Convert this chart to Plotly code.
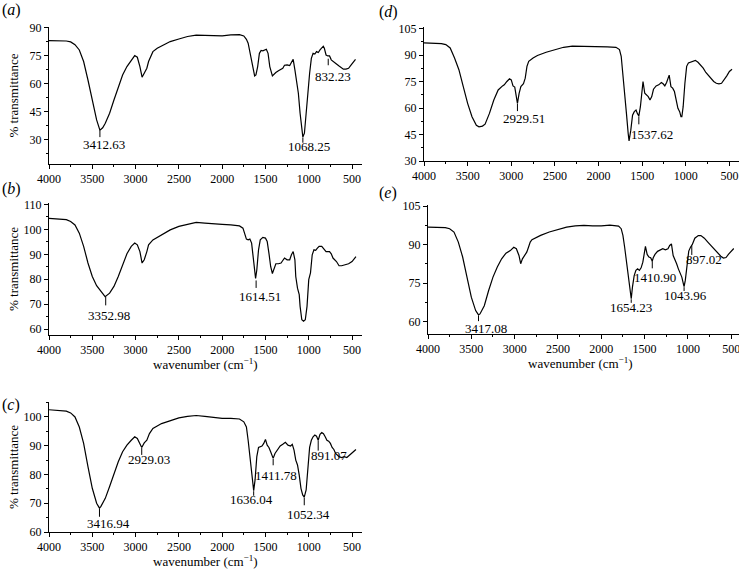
import plotly.graph_objects as go

# ---- spectra (wavenumber cm-1, % transmittance) ----
wn_a = [4000, 3900, 3800, 3750, 3700, 3650, 3600, 3550, 3500, 3450, 3412, 3380, 3350, 3300, 3250, 3200,
        3150, 3100, 3050, 3010, 2980, 2950, 2925, 2900, 2870, 2850, 2800, 2750, 2700, 2600, 2500, 2400,
        2300, 2200, 2100, 2000, 1900, 1800, 1750, 1720, 1700, 1680, 1660, 1640, 1625, 1610, 1590, 1570,
        1550, 1530, 1510, 1490, 1470, 1450, 1420, 1400, 1380, 1350, 1300, 1280, 1250, 1220, 1200, 1180,
        1160, 1140, 1120, 1100, 1080, 1068, 1050, 1030, 1010, 990, 970, 950, 930, 910, 890, 870, 850,
        832, 820, 800, 780, 760, 740, 720, 700, 680, 650, 620, 600, 570, 540, 510, 480, 460]
tr_a = [83.2, 83.1, 83.0, 82.5, 81.0, 78.2, 72.0, 62.1, 51.4, 40.7, 35.2, 36.5, 38.9, 44.3, 51.4, 57.7,
        64.8, 69.3, 72.9, 75.2, 74.3, 69.3, 63.6, 65.7, 68.4, 72.0, 77.3, 79.1, 80.4, 82.7, 84.1, 85.4,
        86.1, 85.9, 85.7, 85.7, 86.3, 86.4, 85.7, 83.9, 81.8, 77.3, 71.1, 66.6, 64.3, 64.8, 69.3, 76.4,
        77.9, 77.7, 78.2, 78.6, 76.4, 69.3, 64.3, 65.4, 66.1, 67.1, 68.4, 70.0, 70.2, 69.8, 72.0, 73.2,
        67.5, 61.3, 55.0, 44.3, 34.5, 31.5, 33.6, 42.5, 55.0, 65.7, 73.7, 76.4, 76.0, 77.3, 76.8, 78.2, 79.6,
        80.2, 79.1, 75.5, 75.0, 75.0, 72.9, 72.0, 71.1, 70.7, 69.6, 68.4, 67.9, 67.9, 68.4, 70.2, 72.0, 73.2]

wn_b = [4000, 3900, 3800, 3750, 3700, 3650, 3600, 3550, 3500, 3450, 3400, 3352, 3300, 3250, 3200, 3150,
        3100, 3050, 3010, 2980, 2950, 2925, 2900, 2870, 2850, 2800, 2700, 2600, 2500, 2400, 2300, 2200,
        2100, 2000, 1900, 1800, 1760, 1740, 1720, 1700, 1680, 1660, 1640, 1614, 1600, 1580, 1560, 1530,
        1500, 1480, 1460, 1440, 1420, 1400, 1380, 1350, 1320, 1300, 1280, 1250, 1220, 1200, 1180, 1160,
        1150, 1130, 1110, 1100, 1080, 1060, 1040, 1020, 1000, 980, 960, 940, 920, 900, 880, 850, 820,
        800, 760, 740, 720, 700, 680, 650, 620, 580, 540, 500, 470, 455]
tr_b = [104.4, 104.3, 103.9, 103.2, 101.8, 98.5, 93.2, 86.5, 81.1, 77.4, 75.1, 73.0, 74.4, 77.1, 81.1, 85.8,
        90.2, 93.2, 94.5, 93.8, 91.1, 86.5, 87.8, 91.1, 93.8, 95.8, 97.8, 99.8, 101.2, 102.1, 102.8, 102.5,
        102.1, 102.0, 101.8, 101.4, 100.5, 98.5, 96.1, 95.8, 96.1, 94.5, 89.1, 80.3, 83.7, 91.8, 95.8, 96.8,
        96.5, 95.2, 90.5, 85.1, 82.3, 84.5, 86.2, 86.2, 86.5, 87.5, 88.5, 87.8, 87.8, 89.8, 91.1, 87.8,
        81.1, 76.4, 73.8, 69.1, 63.7, 63.1, 63.7, 69.1, 79.8, 82.5, 89.8, 91.8, 91.6, 92.5, 93.2, 93.2, 91.8,
        91.1, 91.1, 90.2, 88.5, 87.8, 87.1, 85.4, 85.4, 85.8, 86.2, 87.1, 88.5, 89.1]

wn_c = [4000, 3900, 3800, 3750, 3700, 3650, 3600, 3550, 3500, 3450, 3417, 3400, 3350, 3300, 3250, 3200,
        3150, 3100, 3050, 3010, 2980, 2950, 2929, 2900, 2870, 2840, 2800, 2700, 2600, 2500, 2400, 2300,
        2200, 2100, 2000, 1900, 1800, 1750, 1720, 1700, 1680, 1660, 1636, 1620, 1600, 1580, 1560, 1540,
        1520, 1500, 1480, 1460, 1440, 1411, 1390, 1360, 1330, 1300, 1270, 1240, 1210, 1190, 1170, 1150,
        1130, 1110, 1090, 1070, 1052, 1030, 1010, 990, 970, 950, 930, 910, 891, 870, 850, 830, 810, 790,
        770, 750, 730, 710, 690, 670, 650, 620, 590, 560, 530, 500, 470, 455]
tr_c = [102.5, 102.3, 102.0, 101.4, 100.0, 96.5, 90.8, 82.7, 75.2, 70.0, 68.3, 68.9, 71.7, 75.8, 80.4, 84.4,
        87.9, 90.2, 91.9, 93.1, 92.5, 90.8, 89.4, 91.0, 91.9, 94.2, 96.0, 97.7, 98.8, 99.7, 100.2, 100.5,
        100.2, 99.8, 99.5, 99.5, 99.3, 98.3, 96.5, 91.9, 86.2, 80.4, 74.4, 78.1, 86.2, 89.4, 89.6, 89.9,
        90.8, 92.2, 90.2, 89.4, 87.9, 85.6, 87.3, 88.7, 89.9, 90.5, 91.2, 90.2, 89.9, 90.5, 88.5, 85.0,
        83.3, 79.8, 75.2, 72.9, 72.1, 74.6, 82.7, 89.4, 91.9, 93.1, 93.7, 93.3, 91.9, 94.0, 94.6, 94.2, 93.1, 91.9,
        91.6, 90.8, 89.4, 88.7, 87.3, 86.7, 86.2, 85.9, 86.2, 85.9, 86.7, 87.5, 88.5, 88.7]

wn_d = [4000, 3900, 3800, 3750, 3700, 3650, 3600, 3550, 3500, 3450, 3400, 3370, 3330, 3300, 3250, 3200,
        3150, 3100, 3080, 3050, 3020, 3000, 2980, 2960, 2940, 2929, 2910, 2890, 2860, 2840, 2820, 2800,
        2750, 2700, 2600, 2500, 2400, 2300, 2200, 2100, 2000, 1900, 1800, 1760, 1740, 1720, 1700, 1680,
        1660, 1650, 1630, 1610, 1590, 1570, 1555, 1538, 1520, 1500, 1490, 1470, 1450, 1430, 1410, 1390,
        1370, 1340, 1310, 1280, 1260, 1240, 1220, 1200, 1190, 1170, 1150, 1130, 1110, 1090, 1070, 1055,
        1045, 1030, 1010, 990, 970, 950, 920, 890, 860, 830, 800, 770, 740, 710, 680, 650, 620, 590,
        560, 530, 500, 470]
tr_d = [97.0, 97.0, 96.6, 96.0, 94.1, 88.4, 81.8, 72.2, 62.7, 55.1, 50.3, 49.4, 49.8, 50.9, 57.0, 64.6,
        70.3, 72.6, 73.2, 75.1, 76.6, 76.0, 72.6, 71.9, 66.5, 62.7, 68.4, 72.2, 73.8, 77.0, 83.7, 86.5,
        88.4, 89.8, 91.7, 93.2, 94.5, 95.1, 95.1, 94.9, 94.9, 94.7, 94.5, 93.2, 89.4, 79.9, 68.4, 57.0,
        45.6, 41.4, 47.5, 56.0, 58.0, 58.9, 57.0, 55.5, 60.8, 71.3, 75.1, 68.4, 67.5, 66.5, 64.6, 66.5,
        70.7, 72.6, 73.2, 74.5, 73.8, 72.6, 74.5, 77.6, 78.7, 72.2, 71.3, 69.4, 64.6, 59.9, 58.0, 55.1,
        55.1, 60.8, 74.1, 83.7, 85.6, 86.0, 86.5, 87.1, 86.0, 84.6, 82.7, 80.2, 78.3, 76.4, 75.1, 74.1, 73.8, 74.1,
        76.0, 78.3, 80.8, 82.0]

wn_e = [4000, 3900, 3800, 3750, 3700, 3650, 3600, 3550, 3500, 3450, 3417, 3400, 3350, 3300, 3250, 3200,
        3150, 3100, 3050, 3010, 2980, 2950, 2930, 2910, 2880, 2860, 2840, 2820, 2800, 2700, 2600, 2500,
        2400, 2300, 2200, 2100, 2000, 1900, 1800, 1770, 1750, 1730, 1710, 1690, 1670, 1654, 1640, 1620,
        1600, 1580, 1560, 1540, 1520, 1500, 1490, 1470, 1450, 1430, 1411, 1400, 1380, 1350, 1320, 1290,
        1260, 1230, 1210, 1190, 1170, 1150, 1130, 1110, 1090, 1070, 1050, 1044, 1030, 1010, 990, 970,
        950, 920, 880, 850, 810, 770, 730, 690, 650, 620, 590, 560, 530, 500, 470]
tr_e = [96.8, 96.8, 96.6, 96.2, 94.9, 91.0, 85.2, 77.4, 69.6, 64.4, 62.7, 63.1, 66.3, 72.2, 77.4, 81.3,
        84.5, 86.7, 87.7, 89.0, 88.4, 85.8, 82.6, 84.5, 86.2, 87.1, 89.0, 91.0, 91.9, 93.6, 94.9, 95.8,
        96.8, 97.3, 97.5, 97.3, 97.3, 97.6, 97.2, 96.2, 93.6, 89.0, 83.9, 77.4, 72.2, 69.0, 73.5, 78.0,
        80.0, 80.6, 80.0, 81.0, 83.2, 86.5, 89.3, 86.2, 85.2, 84.9, 83.6, 84.9, 86.2, 87.4, 88.0, 88.4,
        88.0, 88.4, 89.7, 90.3, 85.8, 84.5, 82.6, 80.6, 79.3, 77.4, 74.5, 73.7, 76.1, 82.6, 87.5, 89.0,
        90.0, 92.5, 93.5, 93.5, 92.5, 91.0, 89.5, 88.0, 86.5, 85.5, 84.8, 85.0, 86.3, 87.5, 88.5]

# peak labels: text, wavenumber of tick, tick top, tick bottom, label x, label y
peaks_a = [("3412.63", 3412, 35.0, 31.5, 3370, 27.3),
           ("1068.25", 1068, 31.3, 28.5, 1000, 26.5),
           ("832.23", 775, 73.5, 70.0, 725, 64.0)]
peaks_b = [("3352.98", 3345, 73.0, 69.5, 3310, 65.3),
           ("1614.51", 1608, 79.5, 76.5, 1566, 73.0)]
peaks_c = [("3416.94", 3417, 68.0, 65.3, 3315, 62.9),
           ("2929.03", 2929, 89.2, 86.8, 2850, 85.2),
           ("1636.04", 1636, 74.2, 72.6, 1656, 71.3),
           ("1411.78", 1411, 85.4, 83.2, 1378, 79.5),
           ("1052.34", 1052, 72.0, 69.3, 1000, 66.0),
           ("891.07", 891, 91.8, 88.3, 770, 86.7)]
peaks_d = [("2929.51", 2929, 62.5, 58.3, 2853, 54.1),
           ("1537.62", 1538, 55.3, 50.8, 1388, 45.2)]
peaks_e = [("3417.08", 3417, 62.5, 60.3, 3332, 57.3),
           ("1654.23", 1654, 68.8, 67.4, 1652, 65.7),
           ("1410.90", 1411, 83.6, 80.8, 1375, 77.4),
           ("1043.96", 1044, 73.5, 72.0, 1030, 70.2),
           ("897.02", 955, 89.5, 86.0, 819, 84.2)]

FONT = "Liberation Serif"
W, H = 739, 575


def fx(p):
    return p / W


def fy(p):
    return 1 - p / H


# panel: data, axis suffix, x px span, y px span, x range, y range, y dtick,
#        letter, letter position, y title?, x title?
panels = [
    (wn_a, tr_a, peaks_a, "", (49, 362), (27, 164), [4000, 385], [17.1, 90.5], 15,
     "a", (11, 10), True, False),
    (wn_b, tr_b, peaks_b, "2", (49, 362), (203, 335), [4000, 385], [57.6, 110.6], 10,
     "b", (11, 189), True, True),
    (wn_c, tr_c, peaks_c, "3", (49, 362), (402, 532), [4000, 385], [60, 105.2], 10,
     "c", (11, 405), True, True),
    (wn_d, tr_d, peaks_d, "4", (424, 739), (27, 161), [4000, 390], [30, 106], 15,
     "d", (388, 12), False, False),
    (wn_e, tr_e, peaks_e, "5", (428, 739), (205, 334), [4000, 410], [55.3, 105.4], 15,
     "e", (388, 193), False, True),
]

fig = go.Figure()
annotations = []
shapes = []

for wn, tr, peaks, s, (x0, x1), (y0, y1), xr, yr, dt, letter, (lx0, ly0), ylab, xlab in panels:
    xa, ya = "x" + s, "y" + s
    fig.add_trace(go.Scatter(x=wn, y=tr, mode="lines", xaxis=xa, yaxis=ya,
                             line=dict(color="black", width=1.2), showlegend=False,
                             hoverinfo="skip"))
    common = dict(showline=True, linecolor="black", linewidth=1, showgrid=False, zeroline=False,
                  ticks="outside", ticklen=4, tickcolor="black", automargin=False,
                  tickfont=dict(family=FONT, size=12, color="black"))
    fig.update_layout(**{
        "xaxis" + s: dict(common, domain=[fx(x0), fx(x1)], range=xr, anchor=ya,
                          ticklabeloverflow="allow",
                          tickmode="array", tickvals=[4000, 3500, 3000, 2500, 2000, 1500, 1000, 500],
                          minor=dict(ticks="outside", ticklen=2, tickcolor="black", dtick=250, tick0=0)),
        "yaxis" + s: dict(common, domain=[fy(y1), fy(y0)], range=yr, anchor=xa,
                          dtick=dt, tick0=0,
                          minor=dict(ticks="outside", ticklen=2, tickcolor="black", dtick=dt / 2, tick0=0)),
    })
    # panel letter
    annotations.append(dict(text="(<i>%s</i>)" % letter, x=fx(lx0), y=fy(ly0),
                            xref="paper", yref="paper", showarrow=False, xanchor="center",
                            yanchor="middle", font=dict(family=FONT, size=16, color="black")))
    if ylab:
        annotations.append(dict(text="% transmittance", x=fx(13), y=fy((y0 + y1) / 2),
                                xref="paper", yref="paper", showarrow=False, textangle=-90,
                                xanchor="center", yanchor="middle",
                                font=dict(family=FONT, size=13, color="black")))
    if xlab:
        annotations.append(dict(text="wavenumber (cm<sup>−1</sup>)",
                                x=fx((x0 + 733) / 2 if s == "5" else (x0 + 362) / 2),
                                y=fy(y1 + 29), xref="paper", yref="paper", showarrow=False,
                                xanchor="center", yanchor="middle",
                                font=dict(family=FONT, size=13, color="black")))
    for txt, px_, t0, t1, lx, ly in peaks:
        shapes.append(dict(type="line", xref=xa, yref=ya, x0=px_, x1=px_, y0=t0, y1=t1,
                           line=dict(color="black", width=1)))
        annotations.append(dict(text=txt, x=lx, y=ly, xref=xa, yref=ya, showarrow=False,
                                xanchor="center", yanchor="middle",
                                font=dict(family=FONT, size=13, color="black")))

fig.update_layout(
    width=W, height=H,
    margin=dict(l=0, r=0, t=0, b=0),
    paper_bgcolor="white",
    plot_bgcolor="white",
    annotations=annotations,
    shapes=shapes,
    font=dict(family=FONT, color="black"),
)

# drop the default body margin so the figure sits at the page corner
fig.write_html("out.html", config={"displayModeBar": False},
               post_script="document.body.style.margin='0';")
